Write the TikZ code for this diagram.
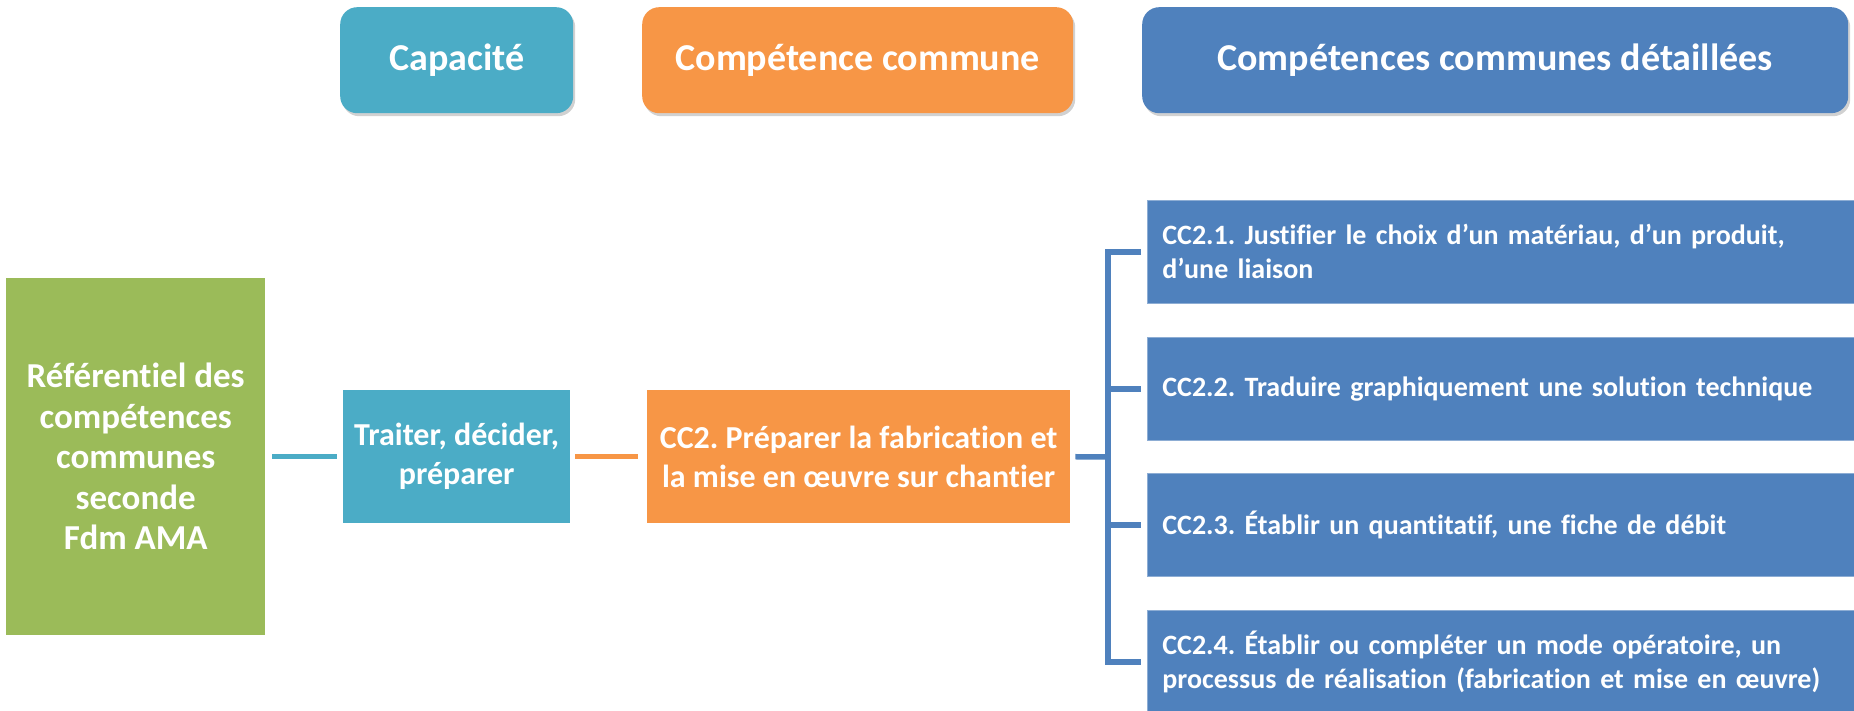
\documentclass[tikz,border=0pt]{standalone}
\usepackage{fontspec}
\setmainfont{Carlito}[Ligatures={NoCommon}]
\usetikzlibrary{shadows}
\definecolor{cteal}{HTML}{4BACC6}
\definecolor{corange}{HTML}{F79646}
\definecolor{cblue}{HTML}{4F81BD}
\definecolor{cgreen}{HTML}{9BBB59}
\frenchspacing
\begin{document}
\begin{tikzpicture}[x=1pt,y=-1pt,
  header/.style={rectangle, rounded corners=17pt, anchor=north west, inner sep=0pt,
    text=white, font=\fontsize{38}{46}\selectfont\bfseries,
    drop shadow={shadow xshift=2pt, shadow yshift=-3pt, opacity=0.18, fill=black}},
  mainbox/.style={rectangle, anchor=north west, inner sep=0pt, text=white, align=center},
  detbox/.style={rectangle, anchor=north west, fill=cblue, draw=cblue!65!white, line width=0.8pt,
    minimum width=720pt, minimum height=103pt, inner xsep=12pt, text=white, align=left,
    text width=690pt, font=\fontsize{28}{34}\selectfont\bfseries},
  conn/.style={line width=5.5pt}
]
\useasboundingbox (0,0) rectangle (1854,711);
% headers
\node[header, fill=cteal, minimum width=233pt, minimum height=106pt] (h1) at (340,7) {Capacité};
\node[header, fill=corange, minimum width=431pt, minimum height=106pt] (h2) at (642,7) {Compétence commune};
\node[header, fill=cblue, minimum width=706pt, minimum height=106pt] (h3) at (1142,7) {Compétences communes détaillées};
% main boxes
\node[mainbox, fill=cgreen, minimum width=259pt, minimum height=357pt,
  font=\fontsize{35}{40.5}\selectfont\bfseries] (g) at (6,278)
  {Référentiel des\\compétences\\communes\\seconde\\Fdm AMA};
\node[mainbox, fill=cteal, minimum width=227pt, minimum height=133pt,
  font=\fontsize{32}{39}\selectfont\bfseries] (t) at (343,390)
  {Traiter, décider,\\préparer};
\node[mainbox, fill=corange, minimum width=423pt, minimum height=133pt,
  font=\fontsize{32}{39}\selectfont\bfseries] (o) at (647,390)
  {CC2. Préparer la fabrication et\\la mise en œuvre sur chantier};
% detailed boxes
\node[detbox] (b1) at (1147,200) {CC2.1. Justifier le choix d’un matériau, d’un produit,\\d’une liaison};
\node[detbox] (b2) at (1147,337) {CC2.2. Traduire graphiquement une solution technique};
\node[detbox] (b3) at (1147,473) {CC2.3. Établir un quantitatif, une fiche de débit};
\node[detbox] (b4) at (1147,610) {CC2.4. Établir ou compléter un mode opératoire, un\\processus de réalisation (fabrication et mise en œuvre)};
% connectors
\coordinate (br) at (1108,457);
\draw[conn, cteal, shorten <=7pt, shorten >=6pt] (g.east |- t.west) -- (t.west);
\draw[conn, corange, shorten <=5pt, shorten >=9pt] (t.east) -- (o.west);
\draw[conn, cblue, shorten <=5pt] (o.east) -- (br);
\draw[conn, cblue, shorten <=6pt, shorten >=6pt] (b1.west) -- (br |- b1.west) -- (br |- b4.west) -- (b4.west);
\draw[conn, cblue, shorten >=6pt] (br |- b2.west) -- (b2.west);
\draw[conn, cblue, shorten >=6pt] (br |- b3.west) -- (b3.west);
\end{tikzpicture}
\end{document}
